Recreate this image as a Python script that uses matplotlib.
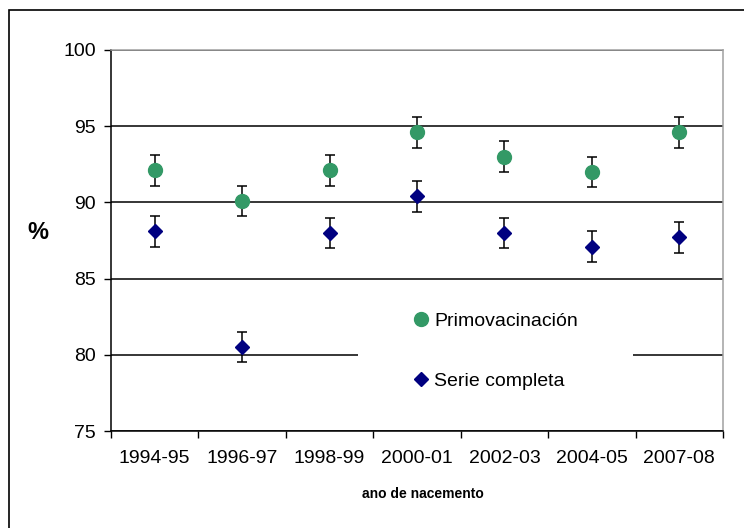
import matplotlib.pyplot as plt
from matplotlib.patches import Rectangle
from matplotlib.ticker import FixedLocator
import numpy as np

plt.rcParams['font.family'] = ['Liberation Sans', 'DejaVu Sans']

# birth cohorts and coverage (%) with error half-widths
cohorts = ['1994-95', '1996-97', '1998-99', '2000-01', '2002-03', '2004-05', '2007-08']
primo = [92.1, 90.1, 92.1, 94.6, 93.0, 92.0, 94.6]
primo_err = [1.0, 1.0, 1.0, 1.0, 1.0, 1.0, 1.0]
serie = [88.1, 80.5, 88.0, 90.4, 88.0, 87.1, 87.7]
serie_err = [1.0, 1.0, 1.0, 1.0, 1.0, 1.0, 1.0]

x = np.arange(len(cohorts))

fig = plt.figure(figsize=(7.44, 5.28), dpi=100)
ax = fig.add_axes([111/744, 1 - 431/528, 612/744, 381/528])

eb1 = ax.errorbar(x, primo, yerr=primo_err, fmt='o', color='#339966', ms=10,
                  ecolor='black', elinewidth=1.1, capsize=3.5, capthick=1.1,
                  zorder=3)
eb2 = ax.errorbar(x, serie, yerr=serie_err, fmt='D', color='#000080', ms=6.8,
                  ecolor='black', elinewidth=1.1, capsize=3.5, capthick=1.1,
                  zorder=3)

ax.set_xlim(-0.5, len(cohorts) - 0.5)
ax.set_ylim(75, 100)
ax.set_yticks([75, 80, 85, 90, 95, 100])
ax.set_xticks(x)
ax.set_xticklabels(cohorts)
ax.xaxis.set_minor_locator(FixedLocator(np.arange(-0.5, len(cohorts), 1)))
ax.tick_params(axis='x', which='major', length=0, pad=14, labelsize=14)
ax.tick_params(axis='x', which='minor', length=5, width=1, direction='out')
ax.tick_params(axis='y', length=5, width=1, pad=6, labelsize=14)

ax.set_axisbelow(True)
ax.yaxis.grid(True, color='black', linewidth=1.1)

ax.spines['left'].set_color('black')
ax.spines['bottom'].set_color('black')
ax.spines['top'].set_color('#a0a0a0')
ax.spines['right'].set_color('#a0a0a0')
for s in ax.spines.values():
    s.set_linewidth(1.1)

ax.set_ylabel('%', rotation=0, fontsize=17, fontweight='bold', va='center')
ax.yaxis.set_label_coords(-0.119, 0.522)
ax.set_xlabel('ano de nacemento', fontsize=10, fontweight='bold')
ax.xaxis.set_label_coords(0.51, -0.147)

# white legend background (wider than its entries, as in the original)
ax.add_patch(Rectangle((0.404, 0.07), 0.449, 0.27, transform=ax.transAxes,
                       facecolor='white', edgecolor='none', zorder=1))
ax.legend([eb1[0], eb2[0]], ['Primovacinación', 'Serie completa'],
          loc='center', bbox_to_anchor=(0.628, 0.21), fontsize=14,
          frameon=False, borderpad=0.4,
          labelspacing=2.2, handlelength=0.8, handletextpad=0.3,
          borderaxespad=0)

# outer chart border (only left and top edges fall inside the image)
fig.patches.append(Rectangle((9/744, -0.5), 2, 0.5 + 1 - 10/528,
                             transform=fig.transFigure, fill=False,
                             edgecolor='black', linewidth=1.2))

plt.savefig('out.png', dpi=100)
